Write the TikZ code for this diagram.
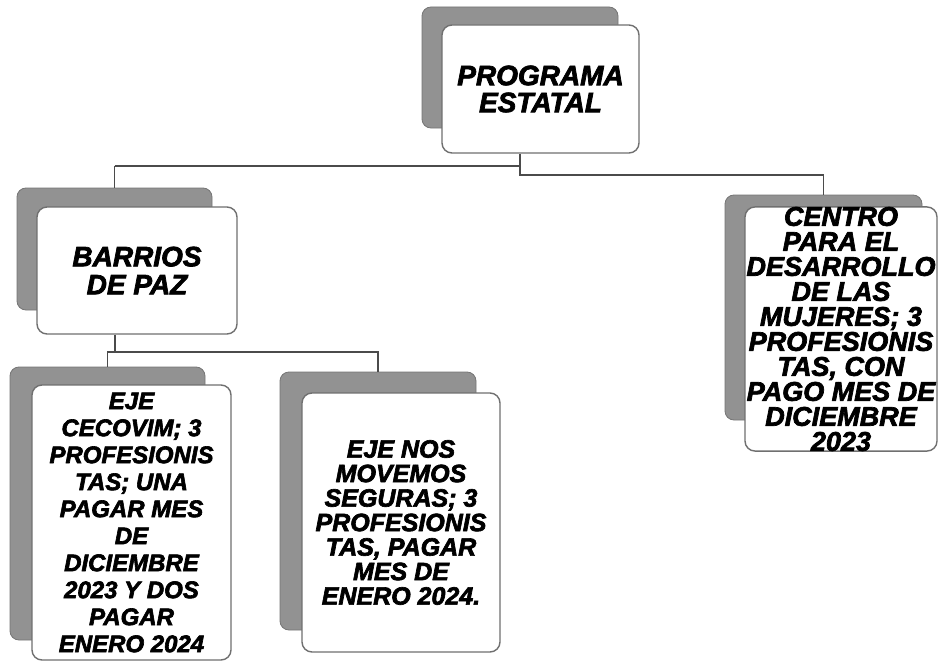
\documentclass[tikz,border=0pt]{standalone}
\usepackage{fontspec}
\setmainfont{Liberation Sans}[BoldItalicFeatures={FakeBold=2.6}]
\definecolor{shadowgray}{RGB}{146,146,146}
\definecolor{boxline}{RGB}{112,112,112}
\definecolor{linkcol}{RGB}{75,75,75}
\begin{document}
\begin{tikzpicture}[x=1pt,y=-1pt,
  shadowbox/.style={draw=shadowgray!80!black, fill=shadowgray, line width=0.8pt, rounded corners=9pt, inner sep=0pt},
  frontbox/.style={draw=boxline, fill=white, line width=1.4pt, rounded corners=10pt, inner sep=0pt, align=center},
  link/.style={draw=linkcol, line width=1.3pt}]
\useasboundingbox[fill=white] (0,0) rectangle (938,661);
% top
\node[shadowbox, minimum width=196pt, minimum height=121pt] (P0) at (520,67.5) {};
\node[frontbox, minimum width=197pt, minimum height=128pt,
  font=\fontsize{28}{27}\selectfont\bfseries\itshape] (P) at (540.5,89) {PROGRAMA\\ESTATAL};
% barrios
\node[shadowbox, minimum width=195pt, minimum height=122pt] (B0) at (114.5,249) {};
\node[frontbox, minimum width=200pt, minimum height=127pt,
  font=\fontsize{28}{28}\selectfont\bfseries\itshape] (B) at (137,270.5) {BARRIOS\\DE PAZ};
% cecovim
\node[shadowbox, minimum width=195pt, minimum height=273pt] (E0) at (107.5,503.5) {};
\node[frontbox, minimum width=199pt, minimum height=275pt,
  font=\fontsize{24}{27}\selectfont\bfseries\itshape] (E) at (131.5,522.5)
  {EJE\\CECOVIM; 3\\PROFESIONIS\\TAS; UNA\\PAGAR MES\\DE\\DICIEMBRE\\2023 Y DOS\\PAGAR\\ENERO 2024};
% nos movemos
\node[shadowbox, minimum width=196pt, minimum height=258pt] (N0) at (378,501) {};
\node[frontbox, minimum width=198pt, minimum height=259pt,
  font=\fontsize{25}{24.5}\selectfont\bfseries\itshape] (N) at (401,522.5)
  {EJE NOS\\MOVEMOS\\SEGURAS; 3\\PROFESIONIS\\TAS, PAGAR\\MES DE\\ENERO 2024.};
% centro
\node[shadowbox, minimum width=197pt, minimum height=225pt] (C0) at (823.5,307.5) {};
\node[frontbox, minimum width=192pt, minimum height=232pt,
  font=\fontsize{27}{25}\selectfont\bfseries\itshape] (C) at (841,329)
  {CENTRO\\PARA EL\\DESARROLLO\\DE LAS\\MUJERES; 3\\PROFESIONIS\\TAS, CON\\PAGO MES DE\\DICIEMBRE\\2023};
% connectors
\coordinate (j1) at (520,166);
\coordinate (j2) at (520,175);
\coordinate (k) at (115,352);
\draw[link] (P.south -| j1) -- (j2) -- (j2 -| C0.north) -- (C0.north);
\draw[link] (j1 -| B0.north) -- (j1);
\draw[link] (j1 -| B0.north) -- (B0.north);
\draw[link] (B.south -| k) -- (k) -- (k -| N0.north) -- (N0.north);
\draw[link] (k) -- (k -| E0.north) -- (E0.north);
\end{tikzpicture}
\end{document}
